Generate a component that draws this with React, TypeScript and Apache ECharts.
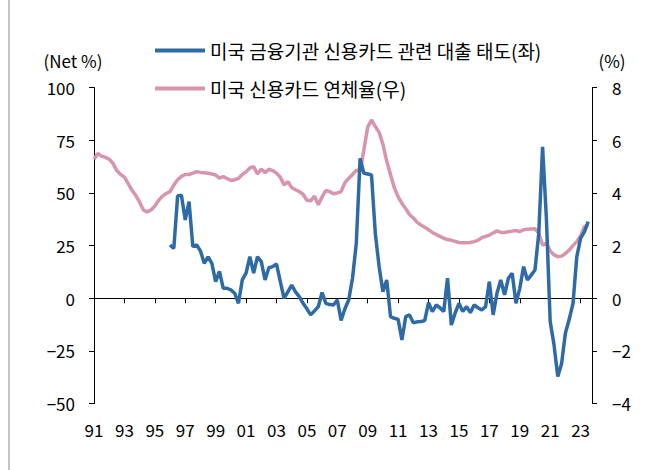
import React, { useEffect, useRef } from "react";
import * as echarts from "echarts";

// Quarterly categories 1991Q1 .. 2023Q4
const startYear = 1991;
const endYear = 2023;
const quarters: string[] = [];
for (let y = startYear; y <= endYear; y++) {
  for (let q = 1; q <= 4; q++) quarters.push(`${y}Q${q}`);
}

// US credit card delinquency rate (%), right axis, from 1991Q1
const delinquency: number[] = [
  5.28, 5.5, 5.4, 5.35, 5.28, 5.12, 4.85, 4.7, 4.6, 4.35,
  4.1, 3.9, 3.65, 3.35, 3.28, 3.35, 3.5, 3.72, 3.88, 3.98,
  4.05, 4.3, 4.5, 4.63, 4.7, 4.7, 4.75, 4.81, 4.78, 4.77,
  4.75, 4.72, 4.68, 4.56, 4.62, 4.55, 4.47, 4.5, 4.55, 4.7,
  4.8, 4.95, 5.0, 4.72, 4.91, 4.77, 4.9, 4.85, 4.75, 4.6,
  4.3, 4.43, 4.2, 4.12, 4.05, 3.95, 3.72, 3.7, 3.88, 3.55,
  3.85, 4.1, 4.05, 3.97, 4.0, 4.05, 4.39, 4.55, 4.7, 4.87,
  4.81, 5.65, 6.5, 6.77, 6.52, 6.3, 5.85, 5.2, 4.7, 4.2,
  3.85, 3.6, 3.4, 3.18, 3.05, 2.88, 2.78, 2.7, 2.6, 2.5,
  2.42, 2.35, 2.28, 2.23, 2.2, 2.16, 2.12, 2.11, 2.11, 2.12,
  2.15, 2.2, 2.3, 2.35, 2.4, 2.48, 2.56, 2.5, 2.5, 2.53,
  2.55, 2.57, 2.53, 2.6, 2.62, 2.63, 2.64, 2.47, 2.02, 2.09,
  1.8, 1.65, 1.58, 1.6, 1.7, 1.83, 2.0, 2.15, 2.37, 2.72,
  2.78,
];

// Net % of US banks tightening credit card lending standards, left axis, from 1996Q1
const lendingStartIndex = 20;
const lendingAttitude: number[] = [
  25.3, 23.7, 48.6, 48.9, 37.2, 45.9, 24.5, 25.3, 22.5, 16.6,
  19.7, 16.6, 7.9, 12.8, 4.7, 4.7, 4.0, 2.4, -2.4, 8.7,
  11.9, 19.7, 11.9, 19.7, 17.4, 8.7, 14.5, 15.0, 16.3, 8.0,
  0, 3.0, 6.3, 3.0, 0.8, -2.4, -5.0, -7.9, -6.0, -4.0,
  2.7, -2.4, -3.0, -3.2, -0.8, -10.5, -5.0, -0.8, 9.5, 26.1,
  66.4, 59.3, 59.0, 58.5, 30.8, 15.0, 3.1, 8.7, -8.7, -9.5,
  -10, -19.8, -8.7, -7.9, -11.6, -11.2, -11.0, -10.6, -2.1, -6.3,
  -3.2, -4.5, -6.3, 9.5, -12.7, -7.0, -2.4, -6.3, -4.0, -6.8,
  -3.2, -4.5, -5.6, -4.0, 7.9, -7.9, 2.4, 8.7, 1.6, 9.5,
  11.9, -2.4, 4.7, 15.0, 8.7, 11.0, 13.4, 30.8, 71.9, 38.0,
  -11.0, -22.0, -37.2, -31.0, -16.6, -10.0, -2.5, 19.7, 28.5, 31.5,
  36.4,
];

const seriesNames = ["미국 금융기관 신용카드 관련 대출 태도(좌)", "미국 신용카드 연체율(우)"];
const leftTicks = { min: -50, max: 100, interval: 25 };
const rightTicks = { min: -4, max: 8, interval: 2 };

const BLUE = "#2E6BA6";
const PINK = "#D894AB";
const FONT = "'Noto Sans CJK KR', 'Noto Sans', sans-serif";
const minus = (v: number) => String(v).replace("-", "\u2212");

export default function App() {
  const ref = useRef<HTMLDivElement>(null);
  useEffect(() => {
    if (!ref.current) return;
    const chart = echarts.init(ref.current, undefined, { renderer: "svg" });
    const blueData: (number | null)[] = quarters.map((_, i) => {
      const j = i - lendingStartIndex;
      return j >= 0 && j < lendingAttitude.length ? lendingAttitude[j] : null;
    });
    const pinkData: (number | null)[] = quarters.map((_, i) =>
      i < delinquency.length ? delinquency[i] : null
    );
    chart.setOption({
      animation: false,
      backgroundColor: "#fff",
      textStyle: { fontFamily: FONT },
      grid: { left: 94, right: 56, top: 87.6, bottom: 66.4, containLabel: false },
      legend: {
        orient: "vertical",
        left: 150,
        top: 36,
        itemWidth: 50,
        itemHeight: 4,
        itemGap: 19,
        icon: "rect",
        data: seriesNames,
        textStyle: { fontSize: 19, color: "#000", fontFamily: FONT },
      },
      xAxis: [
        {
          type: "category",
          data: quarters,
          boundaryGap: false,
          position: "bottom",
          axisLine: { show: false, onZero: false },
          axisTick: { show: false },
          axisLabel: {
            interval: 7,
            margin: 17,
            fontSize: 17,
            color: "#000",
            fontFamily: FONT,
            formatter: (v: string) => v.slice(2, 4),
          },
          splitLine: { show: false },
        },
        {
          type: "category",
          data: quarters,
          boundaryGap: false,
          position: "bottom",
          axisLine: { show: true, onZero: true, onZeroAxisIndex: 0, lineStyle: { color: "#000", width: 1 } },
          axisTick: { show: true, interval: 7, length: 5, inside: false, lineStyle: { color: "#000" } },
          axisLabel: { show: false },
          splitLine: { show: false },
        },
      ],
      yAxis: [
        {
          type: "value",
          position: "left",
          min: leftTicks.min,
          max: leftTicks.max,
          interval: leftTicks.interval,
          axisLine: { show: true, lineStyle: { color: "#000", width: 1 } },
          axisTick: { show: true, length: 5, lineStyle: { color: "#000" } },
          axisLabel: { margin: 19, fontSize: 17, color: "#000", fontFamily: FONT, formatter: minus },
          splitLine: { show: false },
        },
        {
          type: "value",
          position: "right",
          min: rightTicks.min,
          max: rightTicks.max,
          interval: rightTicks.interval,
          axisLine: { show: true, lineStyle: { color: "#000", width: 1 } },
          axisTick: { show: true, length: 5, lineStyle: { color: "#000" } },
          axisLabel: { margin: 20, fontSize: 17, color: "#000", fontFamily: FONT, formatter: minus },
          splitLine: { show: false },
        },
      ],
      graphic: [
        { type: "line", shape: { x1: 9, y1: 0, x2: 9, y2: 470 }, style: { stroke: "#b0b0b0", lineWidth: 1.5 } },
        { type: "text", x: 73, y: 60, style: { text: "(Net %)", fontSize: 17, fill: "#000", fontFamily: FONT, textAlign: "center", textVerticalAlign: "middle" } },
        { type: "text", x: 612, y: 60, style: { text: "(%)", fontSize: 17, fill: "#000", fontFamily: FONT, textAlign: "center", textVerticalAlign: "middle" } },
      ],
      series: [
        {
          name: seriesNames[1],
          type: "line",
          xAxisIndex: 0,
          yAxisIndex: 1,
          data: pinkData,
          showSymbol: false,
          lineStyle: { color: PINK, width: 3.5 },
          itemStyle: { color: PINK },
          z: 2,
        },
        {
          name: seriesNames[0],
          type: "line",
          xAxisIndex: 0,
          yAxisIndex: 0,
          data: blueData,
          showSymbol: false,
          connectNulls: false,
          lineStyle: { color: BLUE, width: 3.5 },
          itemStyle: { color: BLUE },
          z: 3,
        },
      ],
    });
    return () => chart.dispose();
  }, []);
  return (
    <div
      ref={ref}
      style={{ position: "fixed", left: 0, top: 0, width: 648, height: 470 }}
    />
  );
}
